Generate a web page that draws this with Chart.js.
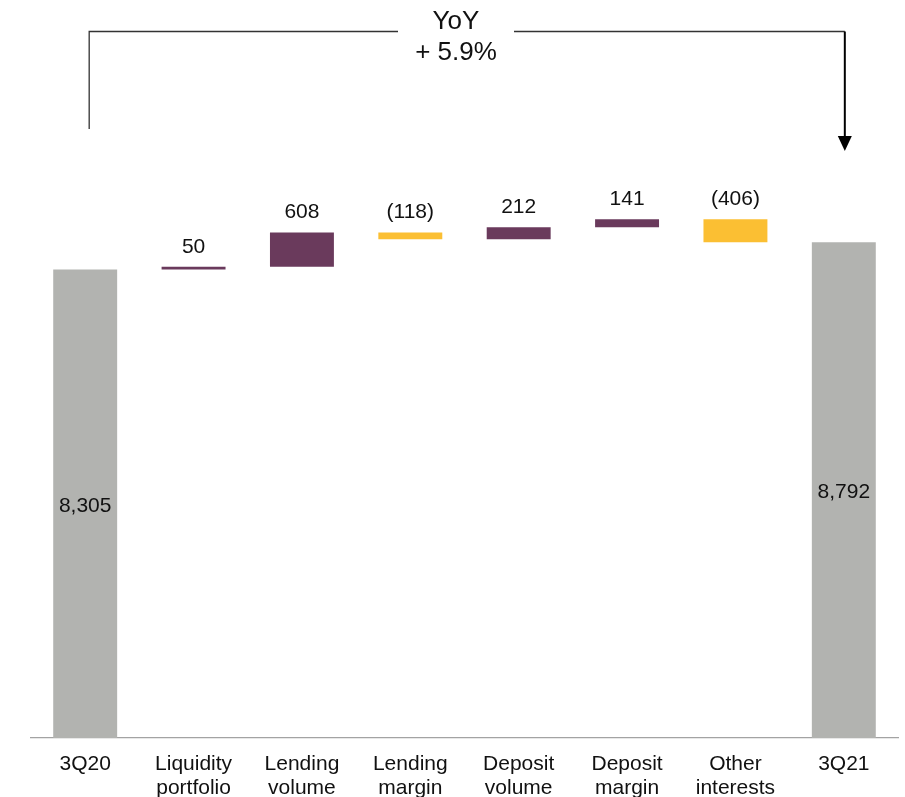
<!DOCTYPE html>
<html>
<head>
<meta charset="utf-8">
<script src="https://cdn.jsdelivr.net/npm/chart.js@4/dist/chart.umd.min.js"></script>
<style>
  html, body { margin: 0; padding: 0; background: #fff; overflow: hidden; }
  #wrap { position: relative; width: 905px; height: 814px; }
</style>
</head>
<body>
<div id="wrap"><canvas id="chart"></canvas></div>
<script>
// Net interest income bridge, 3Q20 -> 3Q21
const categories = [
  ['3Q20'],
  ['Liquidity', 'portfolio'],
  ['Lending', 'volume'],
  ['Lending', 'margin'],
  ['Deposit', 'volume'],
  ['Deposit', 'margin'],
  ['Other', 'interests'],
  ['3Q21']
];
const startTotal = 8305;
const endTotal = 8792;
const changes = [50, 608, -118, 212, 141, -406];
const yoyLabel = ['YoY', '+ 5.9%'];

const COLOR_TOTAL = '#B2B3B0';
const COLOR_UP = '#6A3A5C';
const COLOR_DOWN = '#FBBF33';
const FONT = '"Liberation Sans", Arial, Helvetica, sans-serif';

// Build floating bar ranges for the waterfall
const ranges = [[0, startTotal]];
const colors = [COLOR_TOTAL];
const barValues = [startTotal];
let running = startTotal;
changes.forEach(c => {
  const next = running + c;
  ranges.push([Math.min(running, next), Math.max(running, next)]);
  colors.push(c >= 0 ? COLOR_UP : COLOR_DOWN);
  barValues.push(c);
  running = next;
});
ranges.push([0, endTotal]);
colors.push(COLOR_TOTAL);
barValues.push(endTotal);

function fmt(v, isTotal) {
  const s = Math.abs(v).toLocaleString('en-US');
  if (isTotal) return s;
  return v < 0 ? '(' + s + ')' : s;
}

// Value labels: totals inside the bar, changes above the bar
const valueLabelPlugin = {
  id: 'valueLabels',
  afterDatasetsDraw(chart) {
    const ctx = chart.ctx;
    const meta = chart.getDatasetMeta(0);
    ctx.save();
    ctx.font = '21px ' + FONT;
    ctx.fillStyle = '#111';
    ctx.textAlign = 'center';
    ctx.textBaseline = 'middle';
    meta.data.forEach((bar, i) => {
      const isTotal = i === 0 || i === meta.data.length - 1;
      const top = Math.min(bar.y, bar.base);
      const bottom = Math.max(bar.y, bar.base);
      const y = isTotal ? (top + bottom) / 2 + 2 : top - 20;
      ctx.fillText(fmt(barValues[i], isTotal), bar.x, y);
    });
    ctx.restore();
  }
};

// Year-over-year bracket with arrow from the first to the last bar
const bracketPlugin = {
  id: 'yoyBracket',
  afterDraw(chart) {
    const ctx = chart.ctx;
    const xs = chart.scales.x;
    const area = chart.chartArea;
    const x0 = xs.getPixelForValue(0) + 4;
    const x1 = xs.getPixelForValue(categories.length - 1) + 1;
    const yLine = 31.5;
    const cx = 456;
    const gapHalf = 58;
    const leftEnd = area.top - 45;
    const tip = area.top - 23;
    ctx.save();
    // left leg and top line
    ctx.strokeStyle = '#333';
    ctx.lineWidth = 1.3;
    ctx.beginPath();
    ctx.moveTo(x0, leftEnd);
    ctx.lineTo(x0, yLine);
    ctx.lineTo(cx - gapHalf, yLine);
    ctx.moveTo(cx + gapHalf, yLine);
    ctx.lineTo(x1, yLine);
    ctx.stroke();
    // right leg with arrow
    ctx.strokeStyle = '#000';
    ctx.lineWidth = 2;
    ctx.beginPath();
    ctx.moveTo(x1, yLine);
    ctx.lineTo(x1, tip - 12);
    ctx.stroke();
    ctx.fillStyle = '#000';
    ctx.beginPath();
    ctx.moveTo(x1 - 7, tip - 15);
    ctx.lineTo(x1 + 7, tip - 15);
    ctx.lineTo(x1, tip);
    ctx.closePath();
    ctx.fill();
    // text
    ctx.font = '26px ' + FONT;
    ctx.fillStyle = '#111';
    ctx.textAlign = 'center';
    ctx.textBaseline = 'middle';
    ctx.fillText(yoyLabel[0], cx, 22);
    ctx.fillText(yoyLabel[1], cx, 53);
    ctx.restore();
  }
};

new Chart(document.getElementById('chart'), {
  type: 'bar',
  data: {
    labels: categories,
    datasets: [{
      data: ranges,
      backgroundColor: colors,
      borderWidth: 0,
      barPercentage: 0.59,
      categoryPercentage: 1.0
    }]
  },
  options: {
    responsive: true,
    maintainAspectRatio: false,
    animation: false,
    layout: { padding: { top: 174, left: 31, right: 7, bottom: 0 } },
    plugins: {
      legend: { display: false },
      tooltip: { enabled: false }
    },
    scales: {
      x: {
        grid: { display: false, drawTicks: false },
        border: { display: true, color: '#A3A3A3', width: 1.3 },
        ticks: {
          color: '#111',
          padding: 14,
          maxRotation: 0,
          autoSkip: false,
          font: { family: FONT, size: 21, lineHeight: 1.143 }
        }
      },
      y: {
        display: false,
        min: 0,
        max: 10000
      }
    }
  },
  plugins: [valueLabelPlugin, bracketPlugin]
});
</script>
</body>
</html>
